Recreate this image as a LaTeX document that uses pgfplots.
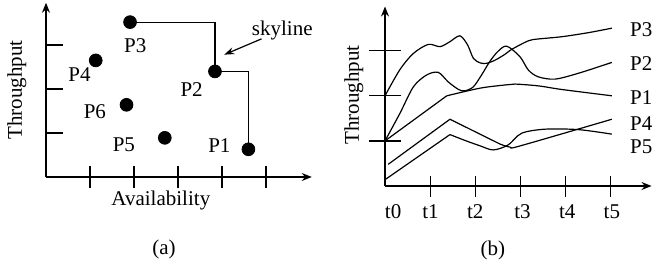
\documentclass[border=0pt]{standalone}
\usepackage{fontspec}
\setmainfont{Liberation Serif}
\usepackage{pgfplots}
\pgfplotsset{compat=1.18}
\usetikzlibrary{arrows.meta}
\begin{document}
\begin{tikzpicture}[font=\fontsize{10.5}{12}\selectfont]
\useasboundingbox (0,0) rectangle (326pt,133.5pt);
% ---------- panel (a) ----------
\begin{axis}[
  at={(23pt,45pt)}, anchor=south west,
  x=22pt, y=22pt, xmin=0, xmax=6.04, ymin=0, ymax=3.96,
  axis lines=left, clip=false,
  axis line style={line width=0.7pt, -{Stealth[length=5pt,width=4pt]}},
  xtick={1,2,3,4,5}, ytick={1,2,3},
  xticklabels={}, yticklabels={},
  xtick align=center, ytick align=inside,
  major tick length=11pt,
  x tick style={line width=0.6pt,black},
  y tick style={line width=0.6pt,black,/pgfplots/major tick length=8.5pt},
]
\addplot[line width=0.6pt, black] coordinates {(1.91,3.52) (3.84,3.52) (3.84,2.40) (4.60,2.40) (4.60,0.63)};
\addplot[only marks, mark=*, mark size=3.2pt, black] coordinates {(4.60,0.63) (3.84,2.40) (1.91,3.52) (1.13,2.65) (2.70,0.89) (1.83,1.64)};
\node[anchor=base] at (axis cs:2.03,2.82) {P3};
\node[anchor=base] at (axis cs:0.76,2.18) {P4};
\node[anchor=base] at (axis cs:3.31,1.82) {P2};
\node[anchor=base] at (axis cs:1.11,1.32) {P6};
\node[anchor=base] at (axis cs:1.77,0.57) {P5};
\node[anchor=base] at (axis cs:3.94,0.56) {P1};
\node[anchor=base] at (axis cs:5.37,3.21) {skyline};
\draw[line width=0.6pt, -{Stealth[length=5pt,width=3.5pt]}] (axis cs:4.90,3.14) -- (axis cs:4.05,2.78);
\node[anchor=base] at (axis cs:2.61,-0.645) {Availability};
\node[anchor=base, rotate=90] at (axis cs:-0.55,1.98) {Throughput};
\node[anchor=base] at (axis cs:2.68,-1.77) {(a)};
\end{axis}
% ---------- panel (b) ----------
\begin{axis}[
  at={(192.5pt,40.5pt)}, anchor=south west,
  x=22.55pt, y=22.55pt, xmin=0, xmax=5.91, ymin=0, ymax=3.98,
  axis lines=left, clip=false,
  axis line style={line width=0.7pt, -{Stealth[length=5pt,width=4pt]}},
  xtick={1,2,3,4,5}, ytick={1,2,3},
  xticklabels={}, yticklabels={},
  tick align=center,
  major tick length=10.5pt,
  x tick style={line width=0.6pt,black},
  y tick style={line width=0.6pt,black,/pgfplots/major tick length=16pt},
]
% P3
\addplot[line width=0.6pt, black, smooth] coordinates {(0,2.0) (0.33,2.58) (0.63,2.94) (0.96,3.14) (1.22,3.09) (1.44,3.2) (1.66,3.33) (1.83,3.13) (1.96,2.83) (2.11,2.73) (2.25,2.72) (2.44,2.79) (2.66,2.92) (2.81,3.03) (3.18,3.22) (3.40,3.26) (3.92,3.31) (4.51,3.40) (5.03,3.50)};
% P2
\addplot[line width=0.6pt, black, smooth] coordinates {(0,1.0) (0.33,1.61) (0.63,2.20) (0.92,2.46) (1.18,2.52) (1.40,2.31) (1.63,2.14) (1.77,2.11) (1.96,2.20) (2.14,2.46) (2.33,2.77) (2.51,2.99) (2.70,3.10) (2.99,2.87) (3.18,2.57) (3.40,2.42) (3.77,2.37) (4.29,2.50) (5.03,2.74)};
% P1
\addplot[line width=0.6pt, black] coordinates {(0,1.0) (1.37,2.0)};
\addplot[line width=0.6pt, black, smooth] coordinates {(1.37,2.0) (2.11,2.17) (2.66,2.24) (2.88,2.26) (3.40,2.22) (3.92,2.14) (5.03,2.0)};
% P4
\addplot[line width=0.6pt, black] coordinates {(0.07,0.48) (1.44,1.48) (2.55,0.93)};
\addplot[line width=0.6pt, black, smooth] coordinates {(2.55,0.93) (2.78,0.86) (3.0,0.89) (5.03,1.48)};
% P5
\addplot[line width=0.6pt, black] coordinates {(0,0.14) (1.44,1.14)};
\addplot[line width=0.6pt, black, smooth] coordinates {(1.44,1.14) (1.8,1.0) (2.11,0.89) (2.40,0.80) (2.73,0.91) (3.03,1.17) (3.55,1.26) (4.29,1.25) (5.03,1.15)};
\node[anchor=base west] at (axis cs:5.28,3.31) {P3};
\node[anchor=base west] at (axis cs:5.28,2.56) {P2};
\node[anchor=base west] at (axis cs:5.28,1.80) {P1};
\node[anchor=base west] at (axis cs:5.28,1.22) {P4};
\node[anchor=base west] at (axis cs:5.28,0.72) {P5};
\node[anchor=base] at (axis cs:0.18,-0.72) {t0};
\node[anchor=base] at (axis cs:1.01,-0.72) {t1};
\node[anchor=base] at (axis cs:2.0,-0.72) {t2};
\node[anchor=base] at (axis cs:3.05,-0.72) {t3};
\node[anchor=base] at (axis cs:4.04,-0.72) {t4};
\node[anchor=base] at (axis cs:5.03,-0.72) {t5};
\node[anchor=base, rotate=90] at (axis cs:-0.58,2.02) {Throughput};
\node[anchor=base] at (axis cs:2.39,-1.53) {(b)};
\end{axis}
\end{tikzpicture}
\end{document}
